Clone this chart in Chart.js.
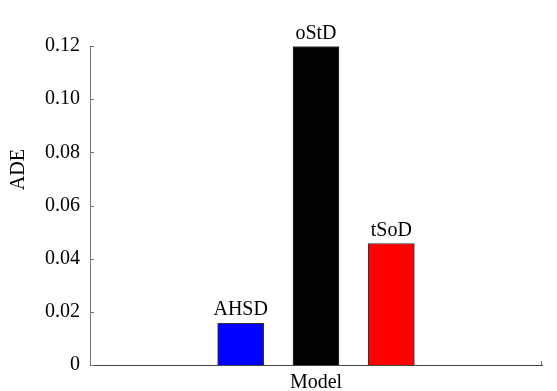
<!DOCTYPE html>
<html>
<head>
<meta charset="utf-8">
<script src="https://cdn.jsdelivr.net/npm/chart.js@4/dist/chart.umd.min.js"></script>
<style>
html,body{margin:0;padding:0;background:#fff;}
#wrap{width:557px;height:391px;position:relative;}
</style>
</head>
<body>
<div id="wrap"><canvas id="c" width="557" height="391"></canvas></div>
<script>
const models = ['AHSD', 'oStD', 'tSoD'];
const positions = [2, 3, 4];
const adeValues = [0.0157, 0.1198, 0.0457];
const barColors = ['#0000ff', '#000000', '#ff0000'];
const yTicks = [0, 0.02, 0.04, 0.06, 0.08, 0.10, 0.12];
const yTitle = 'ADE';
const xTitle = 'Model';

const FONT = "'Liberation Serif', 'Times New Roman', serif";
const FS = 20;

const labelPlugin = {
  id: 'barLabels',
  afterDatasetsDraw(chart) {
    const ctx = chart.ctx;
    const meta = chart.getDatasetMeta(0);
    ctx.save();
    ctx.font = FS + 'px ' + FONT;
    ctx.fillStyle = '#000';
    ctx.textAlign = 'center';
    ctx.textBaseline = 'alphabetic';
    meta.data.forEach((bar, i) => {
      ctx.fillText(models[i], bar.x, bar.y - 8);
    });
    ctx.restore();
  },
  afterDraw(chart) {
    const ctx = chart.ctx;
    const y = chart.scales.y;
    const x = chart.scales.x;
    ctx.save();
    ctx.strokeStyle = '#777';
    ctx.lineWidth = 1;
    yTicks.forEach(v => {
      const py = Math.round(y.getPixelForValue(v)) + 0.5;
      ctx.beginPath();
      ctx.moveTo(x.left, py);
      ctx.lineTo(x.left + 4, py);
      ctx.stroke();
    });
    const px = Math.round(x.right) - 0.5;
    ctx.beginPath();
    ctx.moveTo(px, y.bottom);
    ctx.lineTo(px, y.bottom - 4);
    ctx.stroke();
    // y axis title, placed as in the reference (above the axis middle)
    ctx.fillStyle = '#000';
    ctx.font = FS + 'px ' + FONT;
    ctx.textAlign = 'center';
    ctx.textBaseline = 'middle';
    ctx.translate(19, y.getPixelForValue(0.0735));
    ctx.rotate(-Math.PI / 2);
    ctx.fillText(yTitle, 0, 0);
    ctx.restore();
  }
};

new Chart(document.getElementById('c'), {
  type: 'bar',
  data: {
    datasets: [{
      data: positions.map((p, i) => ({x: p, y: adeValues[i]})),
      backgroundColor: barColors,
      borderColor: '#333',
      borderWidth: 1,
      barThickness: 46
    }]
  },
  options: {
    responsive: false,
    animation: false,
    devicePixelRatio: 1,
    layout: {padding: {top: 46, right: 15, left: 0, bottom: 0}},
    plugins: {legend: {display: false}, tooltip: {enabled: false}},
    scales: {
      x: {
        type: 'linear',
        min: 0, max: 6,
        offset: false,
        grid: {display: false, drawTicks: false},
        border: {display: true, color: '#444', width: 1},
        ticks: {display: false},
        title: {display: true, text: xTitle, color: '#000', font: {family: FONT, size: FS}, padding: {top: 0, bottom: -4}},
        afterFit(s) { s.height = 26; }
      },
      y: {
        min: 0, max: 0.12,
        grid: {display: false, drawTicks: false},
        border: {display: true, color: '#777', width: 1},
        afterBuildTicks(s) { s.ticks = yTicks.map(v => ({value: v})); },
        ticks: {
          color: '#000',
          font: {family: FONT, size: FS},
          padding: 10,
          callback: v => v === 0 ? '0' : v.toFixed(2)
        },
        title: {display: false},
        afterFit(s) { s.width = 90; }
      }
    }
  },
  plugins: [labelPlugin]
});
</script>
</body>
</html>
